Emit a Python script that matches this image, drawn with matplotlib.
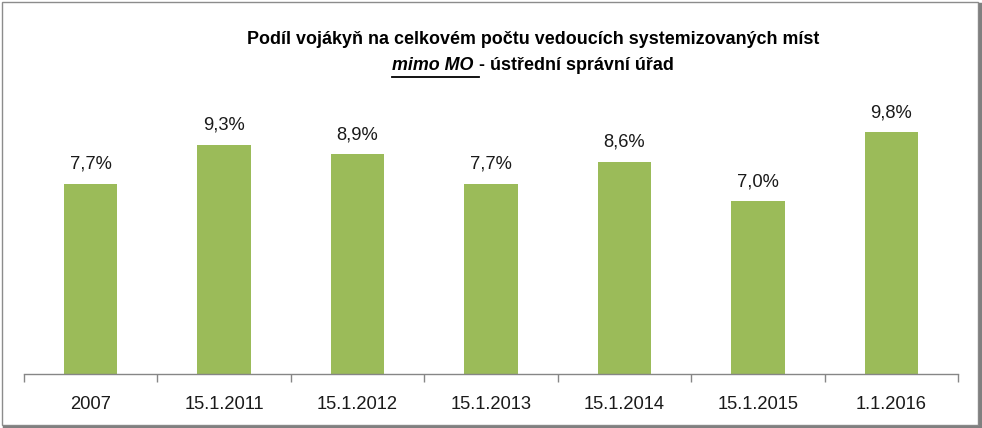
import matplotlib.pyplot as plt
from matplotlib.patches import Rectangle
from matplotlib.lines import Line2D

categories = ['2007', '15.1.2011', '15.1.2012', '15.1.2013', '15.1.2014', '15.1.2015', '1.1.2016']
values = [7.7, 9.3, 8.9, 7.7, 8.6, 7.0, 9.8]
value_labels = ['7,7%', '9,3%', '8,9%', '7,7%', '8,6%', '7,0%', '9,8%']

plt.rcParams['font.family'] = ['Liberation Sans', 'DejaVu Sans']

W, H = 982, 428
fig = plt.figure(figsize=(W / 100, H / 100), dpi=100)

# plot area in pixel terms
x0, x1 = 24, 958
ybase, ytop = 374, 78
ax = fig.add_axes([x0 / W, (H - ybase) / H, (x1 - x0) / W, (ybase - ytop) / H])

xs = range(len(categories))
ax.bar(xs, values, width=0.40, color='#9bbb59', zorder=2)
for x, v, lab in zip(xs, values, value_labels):
    ax.annotate(lab, (x, v), xytext=(0, 8), textcoords='offset points',
                ha='center', va='bottom', fontsize=13.2, color='#1a1a1a')

ax.set_xlim(-0.5, len(categories) - 0.5)
ax.set_ylim(0, 12)
ax.set_yticks([])
ax.set_xticks(list(xs))
ax.set_xticklabels(categories, fontsize=13.2, color='#1a1a1a')
ax.tick_params(axis='x', length=0, pad=16)
ax.set_xticks([i - 0.5 for i in range(len(categories) + 1)], minor=True)
ax.tick_params(axis='x', which='minor', length=6, width=1, color='#868686', direction='out')
for s in ['top', 'right', 'left']:
    ax.spines[s].set_visible(False)
ax.spines['bottom'].set_color('#868686')
ax.spines['bottom'].set_linewidth(1)

# title
tx = 533 / W
fig.text(tx, 1 - 40 / H, 'Podíl vojákyň na celkovém počtu vedoucích systemizovaných míst',
         ha='center', va='center', fontsize=12.9, fontweight='bold', color='#000000')

fig.canvas.draw()
r = fig.canvas.get_renderer()
ty = 1 - 65 / H
t1 = fig.text(0, ty, 'mimo MO ', ha='left', va='center', fontsize=12.9,
              fontweight='bold', fontstyle='italic')
t2 = fig.text(0, ty, '- ústřední správní úřad', ha='left', va='center', fontsize=12.9,
              fontweight='bold')
w1 = t1.get_window_extent(r).width / W
w2 = t2.get_window_extent(r).width / W
start = tx - (w1 + w2) / 2
t1.set_x(start)
t2.set_x(start + w1)
uy = 1 - 77 / H
fig.add_artist(Line2D([start, start + w1], [uy, uy], color='black', lw=1.3,
                      transform=fig.transFigure))

# chart border with shadow
fig.add_artist(Rectangle((1.5 / W, 3.5 / H), (W - 6) / W, (H - 5) / H, fill=False,
                         edgecolor='#8c8c8c', lw=1, transform=fig.transFigure))
fig.add_artist(Line2D([4 / W, (W - 2) / W], [1.5 / H, 1.5 / H], color='#808080', lw=2.5,
                      transform=fig.transFigure))
fig.add_artist(Line2D([(W - 2) / W, (W - 2) / W], [1.5 / H, (H - 4) / H], color='#808080',
                      lw=2.5, transform=fig.transFigure))

fig.savefig('out.png', dpi=100)
